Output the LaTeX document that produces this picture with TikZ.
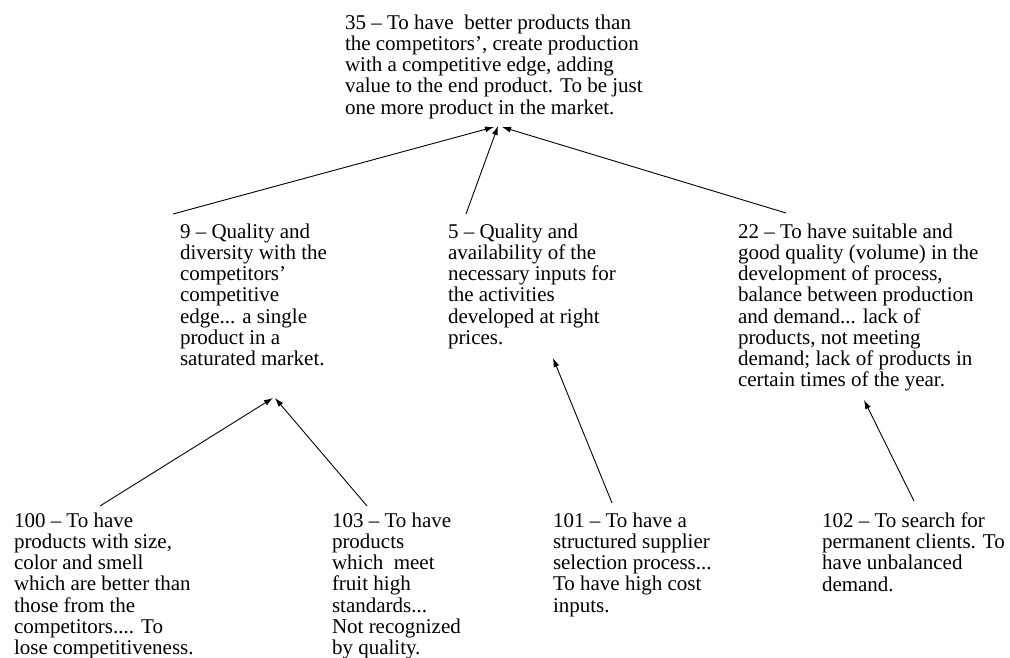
\documentclass[tikz,border=0pt]{standalone}
\usepackage{fontspec}
\setmainfont{Liberation Serif}
\usetikzlibrary{arrows.meta}
\tikzset{
  txt/.style={anchor=north west, inner sep=0pt, outer sep=0pt, align=left,
    font=\fontsize{21}{21.2}\selectfont},
  arr/.style={-{Latex[length=9pt,width=6pt]}, line width=0.9pt, black}
}
\begin{document}
\begin{tikzpicture}[x=1pt,y=-1pt]
\useasboundingbox (0,0) rectangle (1010,658);
\node[txt] (top) at (345,14.7) {35 -- To have \ better products than\\the competitors', create production\\with a competitive edge, adding\\value to the end product. To be just\\one more product in the market.};
\node[txt] (n9) at (180,223.7) {9 -- Quality and\\diversity with the\\competitors'\\competitive\\edge... a single\\product in a\\saturated market.};
\node[txt] (n5) at (448,223.7) {5 -- Quality and\\availability of the\\necessary inputs for\\the activities\\developed at right\\prices.};
\node[txt] (n22) at (738,223.7) {22 -- To have suitable and\\good quality (volume) in the\\development of process,\\balance between production\\and demand... lack of\\products, not meeting\\demand; lack of products in\\certain times of the year.};
\node[txt] (n100) at (14,512.7) {100 -- To have\\products with size,\\color and smell\\which are better than\\those from the\\competitors.... To\\lose competitiveness.};
\node[txt] (n103) at (332,512.7) {103 -- To have\\products\\which \ meet\\fruit high\\standards...\\Not recognized\\by quality.};
\node[txt] (n101) at (553,512.7) {101 -- To have a\\structured supplier\\selection process...\\To have high cost\\inputs.};
\node[txt] (n102) at (822,512.7) {102 -- To search for\\permanent clients. To\\have unbalanced\\demand.};
\coordinate (t9) at (494,127);
\coordinate (t5) at (498,126);
\coordinate (t22) at (502,127);
\coordinate (s9) at (173,214);
\coordinate (s5) at (466,214);
\coordinate (s22) at (786,213);
\coordinate (b9a) at (273,398);
\coordinate (b9b) at (275,398);
\coordinate (s100) at (100,506);
\coordinate (s103) at (367,506);
\coordinate (s101) at (612,503);
\coordinate (e101) at (553,358);
\coordinate (s102) at (914,501);
\coordinate (e102) at (864,400);
\draw[arr] (s9) -- (t9);
\draw[arr] (s5) -- (t5);
\draw[arr] (s22) -- (t22);
\draw[arr] (s100) -- (b9a);
\draw[arr] (s103) -- (b9b);
\draw[arr] (s101) -- (e101);
\draw[arr] (s102) -- (e102);
\end{tikzpicture}
\end{document}
